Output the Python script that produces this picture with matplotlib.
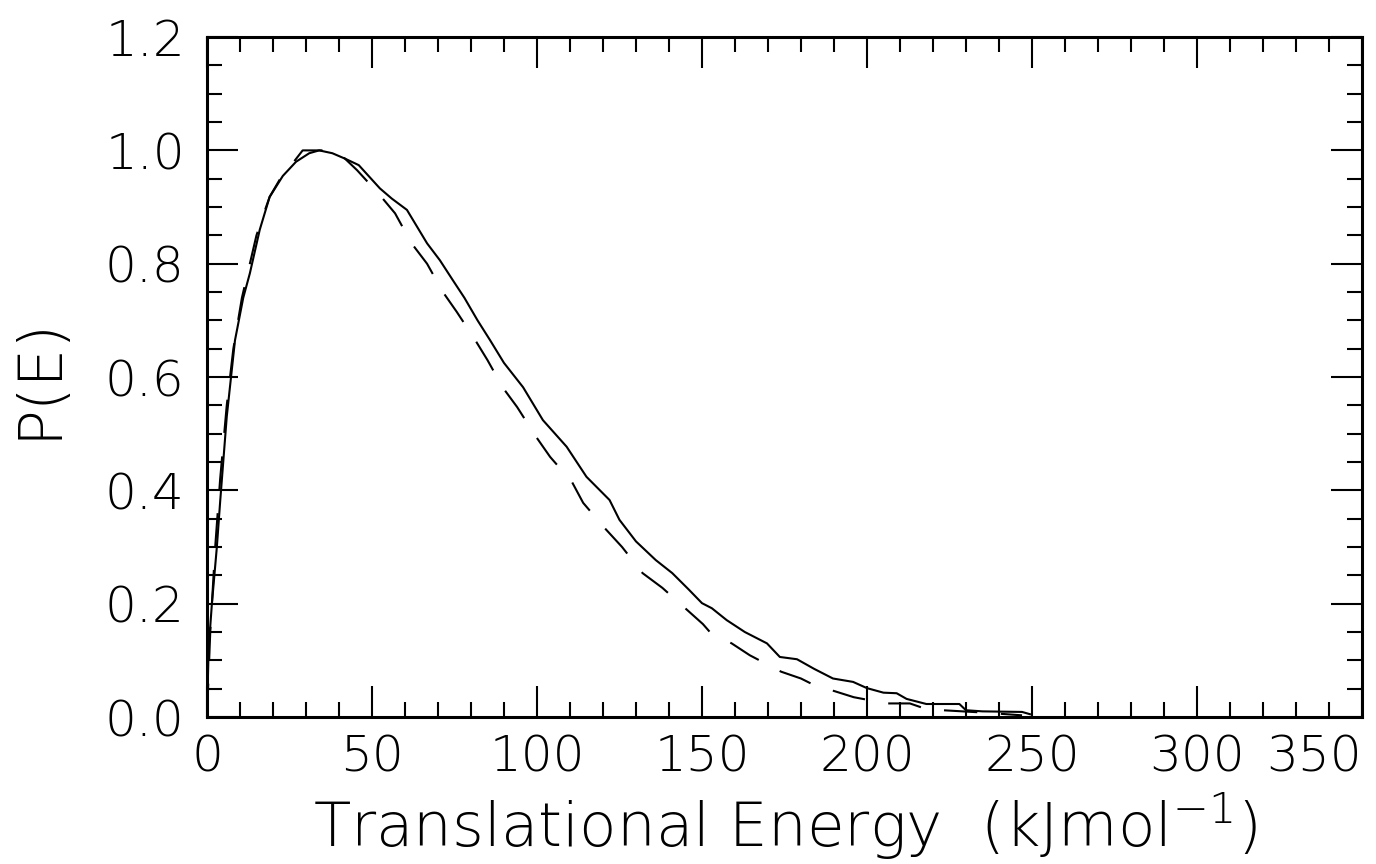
import numpy as np
import matplotlib
matplotlib.use('Agg')
import matplotlib.pyplot as plt
from matplotlib.ticker import MultipleLocator

# Solid curve (experimental P(E))
solid_E = [0, 0.5, 1.5, 3, 4, 6, 8.5, 11, 13, 16, 19, 23, 27, 31, 34, 38, 42, 46,
           52.4, 56, 60.6, 66.7, 70.6, 74.5, 78, 82, 85.8, 90, 95.8, 101.8, 109,
           115, 122, 125, 130, 136, 141, 146, 150, 153, 157.5, 163, 169.7, 173.6,
           178.8, 184, 189.7, 195.8, 200, 205, 209, 212, 218, 228, 230, 235, 247, 249.4]
solid_P = [0, 0.12, 0.2, 0.3, 0.38, 0.53, 0.665, 0.74, 0.783, 0.86, 0.918, 0.955,
           0.98, 0.995, 1.0, 0.995, 0.985, 0.974, 0.933, 0.915, 0.895, 0.836, 0.806,
           0.771, 0.74, 0.70, 0.665, 0.625, 0.582, 0.524, 0.477, 0.424, 0.383, 0.348,
           0.31, 0.277, 0.254, 0.225, 0.201, 0.192, 0.171, 0.15, 0.13, 0.106, 0.102,
           0.085, 0.068, 0.062, 0.051, 0.043, 0.042, 0.032, 0.023, 0.023, 0.012,
           0.01, 0.009, 0.005]

# Dashed curve (fit)
dash_E = [0, 1, 2.5, 4, 6, 8, 10.6, 13, 15, 17, 19, 22, 25, 29, 38, 41, 45.5, 52.4,
          57, 62, 66.7, 71.5, 75.7, 81, 85, 89.7, 94, 99.8, 104, 110.6, 114, 120.6,
          125.8, 132, 138, 145.5, 150.3, 152.4, 159, 164.5, 174, 180, 184.8, 190,
          196, 206, 213, 219, 223, 235, 247]
dash_P = [0, 0.15, 0.3, 0.42, 0.55, 0.65, 0.74, 0.8, 0.85, 0.885, 0.918, 0.948,
          0.97, 1.0, 1.0, 0.99, 0.965, 0.921, 0.889, 0.836, 0.80, 0.75, 0.715,
          0.668, 0.63, 0.581, 0.547, 0.494, 0.459, 0.415, 0.378, 0.333, 0.30,
          0.254, 0.228, 0.189, 0.164, 0.15, 0.13, 0.109, 0.08, 0.068, 0.054,
          0.046, 0.035, 0.024, 0.024, 0.012, 0.012, 0.008, 0.003]

x_ticks = [0, 50, 100, 150, 200, 250, 300, 350]
y_ticks = [0.0, 0.2, 0.4, 0.6, 0.8, 1.0, 1.2]

plt.rcParams['font.family'] = ['DejaVu Sans']
plt.rcParams['font.weight'] = 'light'
plt.rcParams['mathtext.default'] = 'regular'
plt.rcParams['lines.scale_dashes'] = False

fig = plt.figure(figsize=(13.76, 8.64), dpi=100)
ax = fig.add_axes([0.1504, 0.1701, 0.8394, 0.7870])

ax.plot(solid_E, solid_P, color='black', lw=1.5)
ax.plot(dash_E, dash_P, color='black', lw=1.5, dashes=(24, 17))

ax.set_xlim(0, 350)
ax.set_ylim(0, 1.2)

ax.set_xticks(x_ticks)
ax.set_yticks(y_ticks)
ax.set_xticklabels([str(v) for v in x_ticks])
ax.set_yticklabels(['%.1f' % v for v in y_ticks])
ax.xaxis.set_minor_locator(MultipleLocator(10))
ax.yaxis.set_minor_locator(MultipleLocator(0.05))

ax.tick_params(which='both', direction='in', top=True, right=True,
               width=1.5, color='black')
ax.tick_params(which='major', length=22, labelsize=36)
ax.tick_params(axis='x', which='major', pad=12)
ax.tick_params(axis='y', which='major', pad=16)
ax.tick_params(which='minor', length=11)
for lab in ax.get_xticklabels() + ax.get_yticklabels():
    lab.set_fontweight('light')
ax.get_xticklabels()[-1].set_horizontalalignment('right')

for s in ax.spines.values():
    s.set_linewidth(2.2)

ax.set_xlabel('Translational Energy  (kJmol$^{-1}$)', fontsize=44,
              fontweight='light', labelpad=6)
ax.set_ylabel('P(E)', fontsize=44, fontweight='light', labelpad=26)

fig.savefig('out.png', dpi=100, facecolor='white')
